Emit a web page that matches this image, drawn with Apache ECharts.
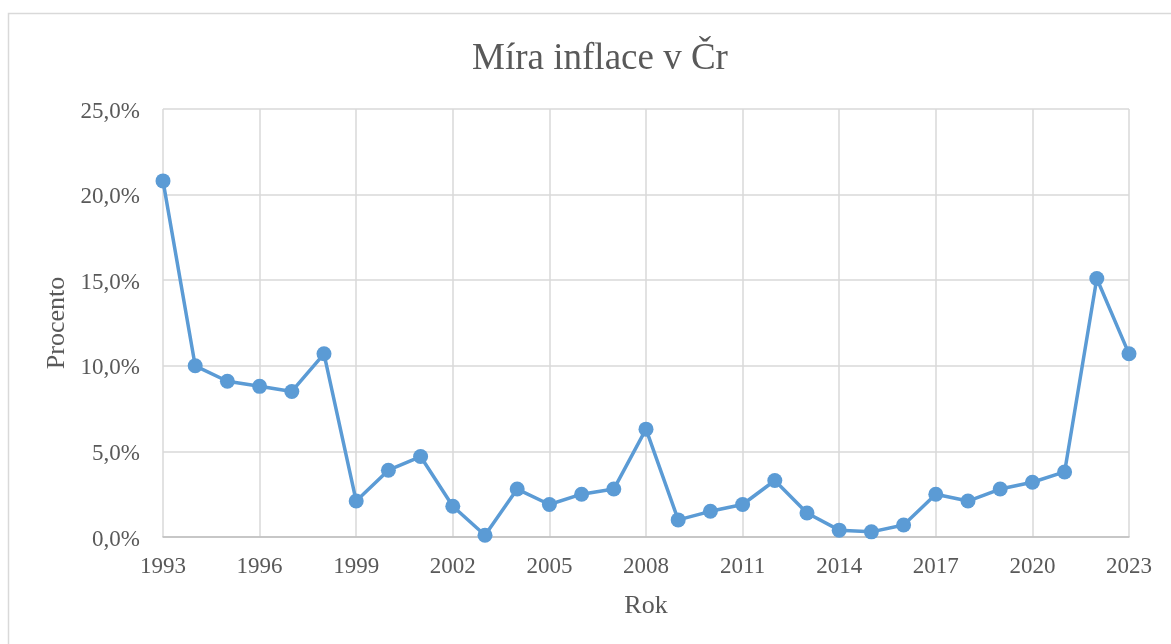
<!DOCTYPE html>
<html>
<head>
<meta charset="utf-8">
<script src="https://cdn.jsdelivr.net/npm/echarts@6/dist/echarts.min.js"></script>
<style>html,body{margin:0;padding:0;background:#fff;}#c{width:1171px;height:644px;}</style>
</head>
<body>
<div id="c"></div>
<script>
const years = ['1993','1994','1995','1996','1997','1998','1999','2000','2001','2002','2003','2004','2005','2006','2007','2008','2009','2010','2011','2012','2013','2014','2015','2016','2017','2018','2019','2020','2021','2022','2023'];
const inflation = [20.8,10.0,9.1,8.8,8.5,10.7,2.1,3.9,4.7,1.8,0.1,2.8,1.9,2.5,2.8,6.3,1.0,1.5,1.9,3.3,1.4,0.4,0.3,0.7,2.5,2.1,2.8,3.2,3.8,15.1,10.7];
const yTicks = [0,5,10,15,20,25];

const FONT = '"Liberation Serif", "DejaVu Serif", serif';
const TXT = '#595959';
const chart = echarts.init(document.getElementById('c'), null, {renderer:'canvas'});
chart.setOption({
  animation:false,
  backgroundColor:'#fff',
  graphic:[{type:'rect', shape:{x:8.5,y:13.5,width:1200,height:700}, style:{fill:'none', stroke:'#D9D9D9', lineWidth:1.5}, silent:true, z:-1}],
  title:{text:'Míra inflace v Čr', left:595, top:36, textAlign:'center',
    textStyle:{fontFamily:FONT, fontSize:37, fontWeight:'normal', color:TXT}},
  grid:{left:163, right:42, top:109, bottom:107},
  xAxis:{type:'category', data:years, boundaryGap:false,
    name:'Rok', nameLocation:'middle', nameGap:56,
    nameTextStyle:{fontFamily:FONT, fontSize:26, color:TXT},
    axisLine:{lineStyle:{color:'#BFBFBF', width:1.5}},
    axisTick:{show:false},
    axisLabel:{interval:2, margin:18, fontFamily:FONT, fontSize:23, color:TXT},
    splitLine:{show:true, interval:2, lineStyle:{color:'#D9D9D9', width:1.5}}},
  yAxis:{type:'value', min:yTicks[0], max:yTicks[yTicks.length-1], interval:5,
    name:'Procento', nameLocation:'middle', nameGap:91,
    nameTextStyle:{fontFamily:FONT, fontSize:26, color:TXT},
    axisLine:{show:false}, axisTick:{show:false},
    axisLabel:{margin:23, fontFamily:FONT, fontSize:23, color:TXT, verticalAlign:'top', lineHeight:23, padding:[-9,0,0,0],
      formatter:v=>v.toFixed(1).replace('.',',')+'%'},
    splitLine:{lineStyle:{color:'#D9D9D9', width:1.5}}},
  series:[{type:'line', data:inflation, symbol:'circle', symbolSize:15,
    lineStyle:{color:'#5B9BD5', width:3.5}, itemStyle:{color:'#5B9BD5'}}]
});
</script>
</body>
</html>
